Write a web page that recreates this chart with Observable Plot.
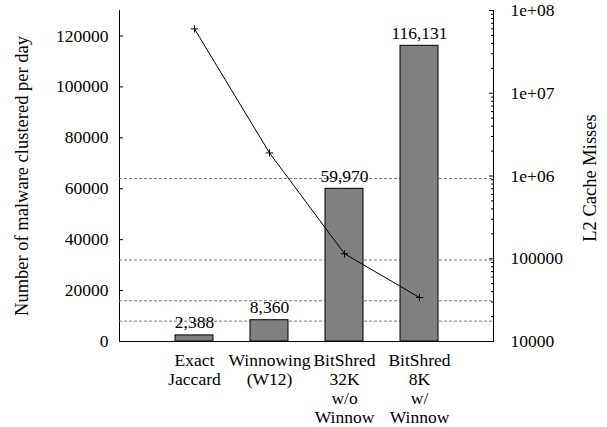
<!DOCTYPE html>
<html><head><meta charset="utf-8">
<script src="https://cdn.jsdelivr.net/npm/d3@7"></script>
<script src="https://cdn.jsdelivr.net/npm/@observablehq/plot@0.6"></script>
<style>
body{margin:0;background:#fff}
#chart{position:relative;width:607px;height:427px}
#chart svg{position:absolute;left:0;top:0}
#chart svg, #chart svg text{font-family:"Liberation Serif","Tinos","DejaVu Serif",serif !important}
</style></head><body><div id="chart"></div>
<script>
const categories = ["Exact\nJaccard", "Winnowing\n(W12)", "BitShred\n32K\nw/o\nWinnow", "BitShred\n8K\nw/\nWinnow"];
const clustered = [2388, 8360, 59970, 116131];
const cacheMisses = [6.0e7, 1.9e6, 1.15e5, 3.4e4];
const gridValues = [8000, 16000, 32000, 64000];
const leftTicks = [0, 20000, 40000, 60000, 80000, 100000, 120000];
const rightTicks = [1e4, 1e5, 1e6, 1e7, 1e8];
const rightTickLabels = ["10000", "100000", "1e+06", "1e+07", "1e+08"];
const leftTitle = "Number of malware clustered per day";
const rightTitle = "L2 Cache Misses";

const data = categories.map((c, i) => ({cat: c, value: clustered[i], misses: cacheMisses[i]}));
const W = 607, H = 427, ML = 119, MR = 114, MT = 10, MB = 86;
const fw = W - ML - MR;
const font = "Liberation Serif";
const common = {
  width: W, height: H, marginLeft: ML, marginRight: MR, marginTop: MT, marginBottom: MB,
  style: {fontFamily: font, fontSize: "17.5px", background: "transparent", color: "black"}
};
const xScale = {type: "band", domain: categories, paddingInner: 0.5, paddingOuter: 0.743, axis: null};
const minorTicks = d3.scaleLog().domain([1e4, 1e8]).ticks().filter(t => !rightTicks.includes(t));

const p1 = Plot.plot({
  ...common,
  x: xScale,
  y: {domain: [0, 130000], ticks: leftTicks, tickFormat: d => String(d), tickSize: 0, tickPadding: 11, line: true, label: null},
  marks: [
    Plot.ruleY(gridValues, {y: d => d, stroke: "#777", strokeDasharray: "3,2", strokeWidth: 1}),
    Plot.barY(data, {x: "cat", y: "value", fill: "#808080", stroke: "black", strokeWidth: 1}),
    Plot.text(data, {x: "cat", y: "value", text: d => d3.format(",")(d.value), lineAnchor: "bottom", dy: -7, fill: "black", fontFamily: font}),
    Plot.text(categories, {x: d => d, text: d => d, frameAnchor: "bottom", lineAnchor: "top", dy: 11, lineHeight: 1.08, fill: "black", fontFamily: font}),
    Plot.ruleY(leftTicks, {y: d => d, insetRight: fw - 4, stroke: "black"}),
    Plot.ruleY([0], {stroke: "black"}),
    Plot.text([leftTitle], {text: d => d, frameAnchor: "left", textAnchor: "middle", dx: -97, dy: 0, rotate: -90, fill: "black", fontFamily: font, fontSize: 18.5})
  ]
});

const p2 = Plot.plot({
  ...common,
  x: xScale,
  y: {type: "log", domain: [1e4, 1e8], axis: "right", ticks: rightTicks,
      tickFormat: d => rightTickLabels[rightTicks.indexOf(d)], tickSize: 0, tickPadding: 17, line: true, label: null},
  marks: [
    Plot.ruleY(minorTicks, {y: d => d, insetLeft: fw - 2, stroke: "black"}),
    Plot.ruleY(rightTicks, {y: d => d, insetLeft: fw - 4, stroke: "black"}),
    Plot.line(data, {x: "cat", y: "misses", stroke: "black", strokeWidth: 1}),
    Plot.dot(data, {x: "cat", y: "misses", symbol: "plus", r: 2.5, stroke: "black", strokeWidth: 1}),
    Plot.text([rightTitle], {text: d => d, frameAnchor: "right", textAnchor: "middle", dx: 97, dy: 2, rotate: -90, fill: "black", fontFamily: font, fontSize: 18.5})
  ]
});

const el = document.getElementById("chart");
el.appendChild(p1);
el.appendChild(p2);
</script></body></html>
